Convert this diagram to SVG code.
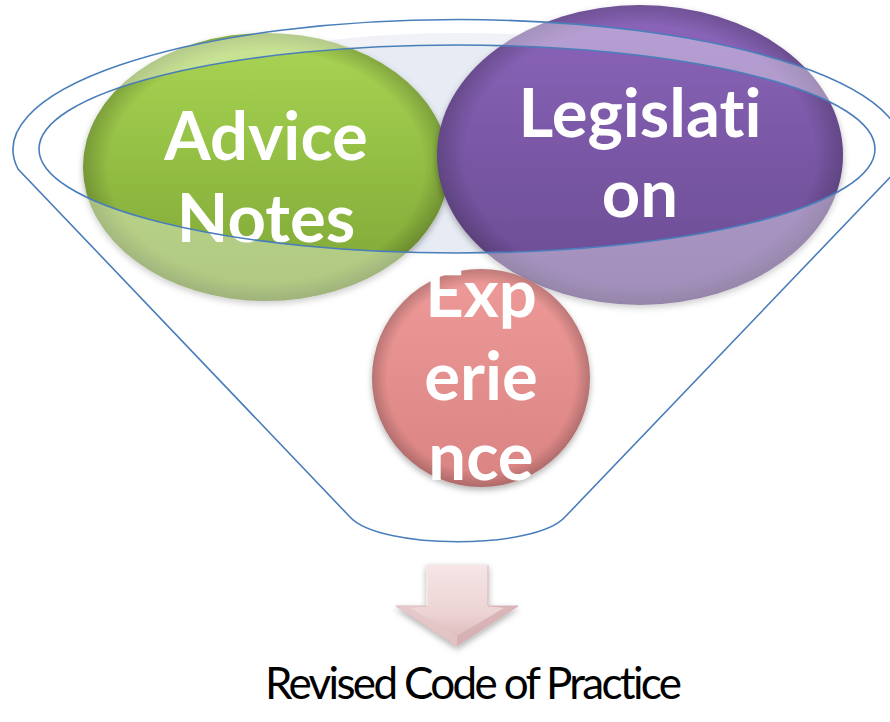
<svg xmlns="http://www.w3.org/2000/svg" width="890" height="722" viewBox="0 0 890 722">
  <style>
    .lbl { font-family: Lato, "Open Sans", "Liberation Sans", sans-serif; font-weight: 700; font-size: 67px; fill: #ffffff; text-anchor: middle; font-variant-ligatures: none; font-feature-settings: "liga" 0, "dlig" 0; }
    .edge { fill: none; stroke: #4a7ebb; stroke-width: 1.6; }
    .cap { font-family: Lato, "Open Sans", "Liberation Sans", sans-serif; font-size: 44px; fill: #000000; text-anchor: middle; font-variant-ligatures: none; font-feature-settings: "liga" 0, "dlig" 0; }
  </style>
  <defs>
    <linearGradient id="gGreen" x1="0" y1="0" x2="0" y2="1">
      <stop offset="0" stop-color="#aad555"/>
      <stop offset="0.45" stop-color="#94c045"/>
      <stop offset="1" stop-color="#7ea435"/>
    </linearGradient>
    <linearGradient id="gPurple" x1="0" y1="0" x2="0" y2="1">
      <stop offset="0" stop-color="#8c66bb"/>
      <stop offset="0.45" stop-color="#7b58a7"/>
      <stop offset="1" stop-color="#6a4b91"/>
    </linearGradient>
    <linearGradient id="gRed" x1="0" y1="0" x2="0" y2="1">
      <stop offset="0" stop-color="#ee9a98"/>
      <stop offset="1" stop-color="#d98483"/>
    </linearGradient>
    <radialGradient id="gRim" cx="0.5" cy="0.5" r="0.5">
      <stop offset="0.86" stop-color="#000000" stop-opacity="0"/>
      <stop offset="1" stop-color="#000000" stop-opacity="0.2"/>
    </radialGradient>
    <linearGradient id="gArrow" x1="0" y1="0" x2="0" y2="1">
      <stop offset="0" stop-color="#f6e6e6"/>
      <stop offset="0.6" stop-color="#ecd3d4"/>
      <stop offset="1" stop-color="#d9b4b6"/>
    </linearGradient>
    <filter id="shadow" x="-10%" y="-10%" width="120%" height="125%">
      <feDropShadow dx="0" dy="3" stdDeviation="3" flood-color="#000000" flood-opacity="0.3"/>
    </filter>
  </defs>

  <ellipse id="funnel-back" cx="458" cy="143" rx="360" ry="110" fill="#e7ebf3"/>

  <g id="node-advice" filter="url(#shadow)">
    <ellipse cx="266" cy="167" rx="183" ry="134" fill="url(#gGreen)"/>
    <ellipse cx="266" cy="167" rx="183" ry="134" fill="url(#gRim)"/>
  </g>
  <g id="node-legislation" filter="url(#shadow)">
    <ellipse cx="640" cy="155" rx="203" ry="150" fill="url(#gPurple)"/>
    <ellipse cx="640" cy="155" rx="203" ry="150" fill="url(#gRim)"/>
  </g>

  <path id="funnel-front" fill="#ffffff" fill-opacity="0.38" fill-rule="evenodd"
        d="M18,169 A445,130 0 1 1 898,169 L565,517 C535,550 380,550 350,517 Z
           M39,149 A418,104 0 1 0 875,149 A418,104 0 1 0 39,149 Z"/>

  <g id="node-experience" filter="url(#shadow)">
    <circle cx="481" cy="378" r="109" fill="url(#gRed)"/>
    <circle cx="481" cy="378" r="109" fill="url(#gRim)"/>
  </g>

  <g id="labels">
    <text class="lbl" x="266" y="160">Advice</text>
    <text class="lbl" x="266" y="242">Notes</text>
    <text class="lbl" x="640" y="137">Legislati</text>
    <text class="lbl" x="640" y="217">on</text>
    <text class="lbl" x="481" y="317">Exp</text>
    <text class="lbl" x="481" y="400">erie</text>
    <text class="lbl" x="481" y="480">nce</text>
  </g>

  <g id="connectors">
    <path class="edge" d="M18,169 A445,130 0 1 1 898,169 L565,517 C535,550 380,550 350,517 Z"/>
    <ellipse class="edge" cx="457" cy="149" rx="418" ry="104"/>
  </g>

  <g id="arrow" filter="url(#shadow)">
    <polygon points="427,565 488,565 488,606 518,606 457,646 396,606 427,606" fill="url(#gArrow)" stroke="#d7b7b9" stroke-width="1"/>
    <polygon points="427,606 396,606 457,646 457,636 410,608" fill="#e4c5c7" opacity="0.8"/>
    <polygon points="488,606 518,606 457,646 457,636 504,608" fill="#d4aeb1" opacity="0.8"/>
    <polyline points="427,606 427,565 488,565" fill="none" stroke="#ffffff" stroke-opacity="0.7" stroke-width="1.5"/>
  </g>

  <text id="result" class="cap" x="473.5" y="699" textLength="417">Revised Code of Practice</text>
</svg>
